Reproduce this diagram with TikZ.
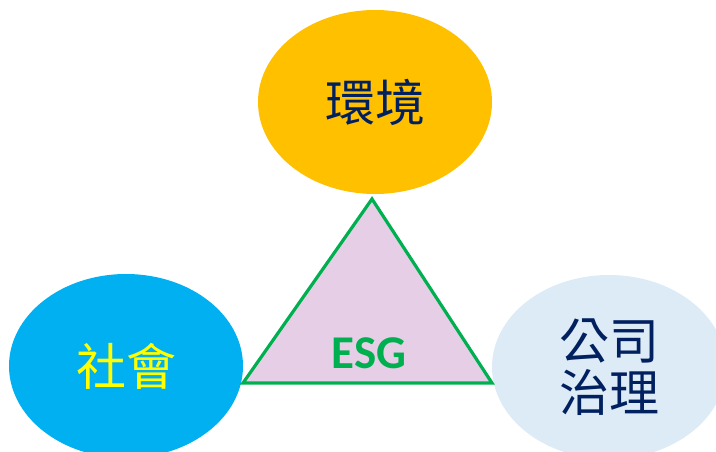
\documentclass[tikz,border=0pt]{standalone}
\usepackage{fontspec}
\newfontfamily\cjk{Noto Sans CJK TC}
\newfontfamily\esgfont{Carlito}
\usepackage{tikz}
\usetikzlibrary{shapes.geometric,positioning,calc}
\definecolor{myorange}{RGB}{255,192,0}
\definecolor{myblue}{RGB}{0,176,240}
\definecolor{mylightblue}{RGB}{221,235,247}
\definecolor{mynavy}{RGB}{0,32,96}
\definecolor{mygreen}{RGB}{0,176,80}
\definecolor{mypink}{RGB}{230,206,230}
\definecolor{myyellow}{RGB}{255,255,0}

\begin{document}
\begin{tikzpicture}[
  x=1pt,
  y=-1pt,
  myellipse/.style={
    ellipse,
    draw=none,
    fill=#1,
    minimum width=234pt,
    minimum height=184pt,
    inner sep=0pt,
    align=center,
    font=\cjk\fontsize{50}{52}\selectfont
    },
  mytri/.style={
    draw=mygreen,
    line width=3.2pt,
    line join=miter,
    fill=mypink
  }
]
\useasboundingbox (0,0) rectangle (716,452);
\clip (0,0) rectangle (716,452);

\node[myellipse=myorange, text=mynavy] (env) at (375,102) {環境};
\node[myellipse=myblue, text=myyellow] (soc) at (126,366) {社會};
\node[myellipse=mylightblue, text=mynavy] (gov) at (609,367) {公司\\治理};

\coordinate (apex) at (372,199);
\coordinate (bl) at (243,383);
\coordinate (br) at (492,383);
\draw[mytri] (apex) -- (bl) -- (br) -- cycle;

\node[text=mygreen, font=\esgfont\bfseries\fontsize{47}{47}\selectfont] (esg) at (369,353) {ESG};

\end{tikzpicture}
\end{document}
